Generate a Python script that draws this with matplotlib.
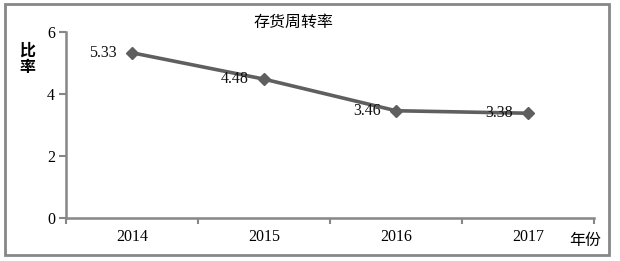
import matplotlib
matplotlib.use("Agg")
import matplotlib.pyplot as plt
from matplotlib.patches import Rectangle

years = ['2014', '2015', '2016', '2017']
ratio = [5.33, 4.48, 3.46, 3.38]
title = '存货周转率'
ylabel = '比\n率'
xlabel = '年份'

cjk = ['Noto Sans CJK SC', 'DejaVu Sans']
num = ['Liberation Serif', 'DejaVu Serif']
grey = '#878787'
line_c = '#5f5f5f'

fig = plt.figure(figsize=(6.2, 2.61), dpi=100)
ax = fig.add_axes([66 / 620, 1 - 218 / 261, (594 - 66) / 620, (218 - 32) / 261])

x = list(range(len(years)))
ax.plot(x, ratio, color=line_c, linewidth=2.6, marker='D', markersize=6.5,
        markerfacecolor=line_c, markeredgecolor=line_c)
for xi, v in zip(x, ratio):
    ax.annotate('%.2f' % v, (xi, v), xytext=(-11, 0), textcoords='offset points',
                ha='right', va='center', fontsize=11.5, family=num, color='#111111')

ax.set_xlim(-0.5, len(years) - 0.5)
ax.set_ylim(0, 6)
ax.set_yticks([0, 2, 4, 6])
ax.set_xticks(x)
ax.set_xticklabels(years, family=num, fontsize=11.5)
ax.set_xticks([i - 0.5 for i in range(len(years) + 1)], minor=True)
ax.tick_params(axis='x', which='major', length=0, pad=8)
ax.tick_params(axis='x', which='minor', length=4, width=1.5, color=grey, direction='out')
ax.tick_params(axis='y', length=5, width=1.5, color=grey, pad=3, labelsize=11.5)
for lab in ax.get_yticklabels():
    lab.set_family(num)

for s in ['top', 'right']:
    ax.spines[s].set_visible(False)
for s in ['left', 'bottom']:
    ax.spines[s].set_color(grey)
    ax.spines[s].set_linewidth(1.8)

fig.text(294 / 620, 1 - 22 / 261, title, ha='center', va='center', family=cjk, fontsize=11.5)
fig.text(27 / 620, 1 - 59 / 261, ylabel, ha='center', va='center', family=cjk,
         fontsize=11.5, linespacing=1.05, fontweight='bold')
fig.text(585 / 620, 1 - 240 / 261, xlabel, ha='center', va='center', family=cjk, fontsize=11.5)

fig.patches.append(Rectangle((5 / 620, 1 - 255 / 261), 604 / 620, 251 / 261,
                             transform=fig.transFigure, fill=False,
                             edgecolor=grey, linewidth=2))

fig.savefig('out.png', dpi=100)
